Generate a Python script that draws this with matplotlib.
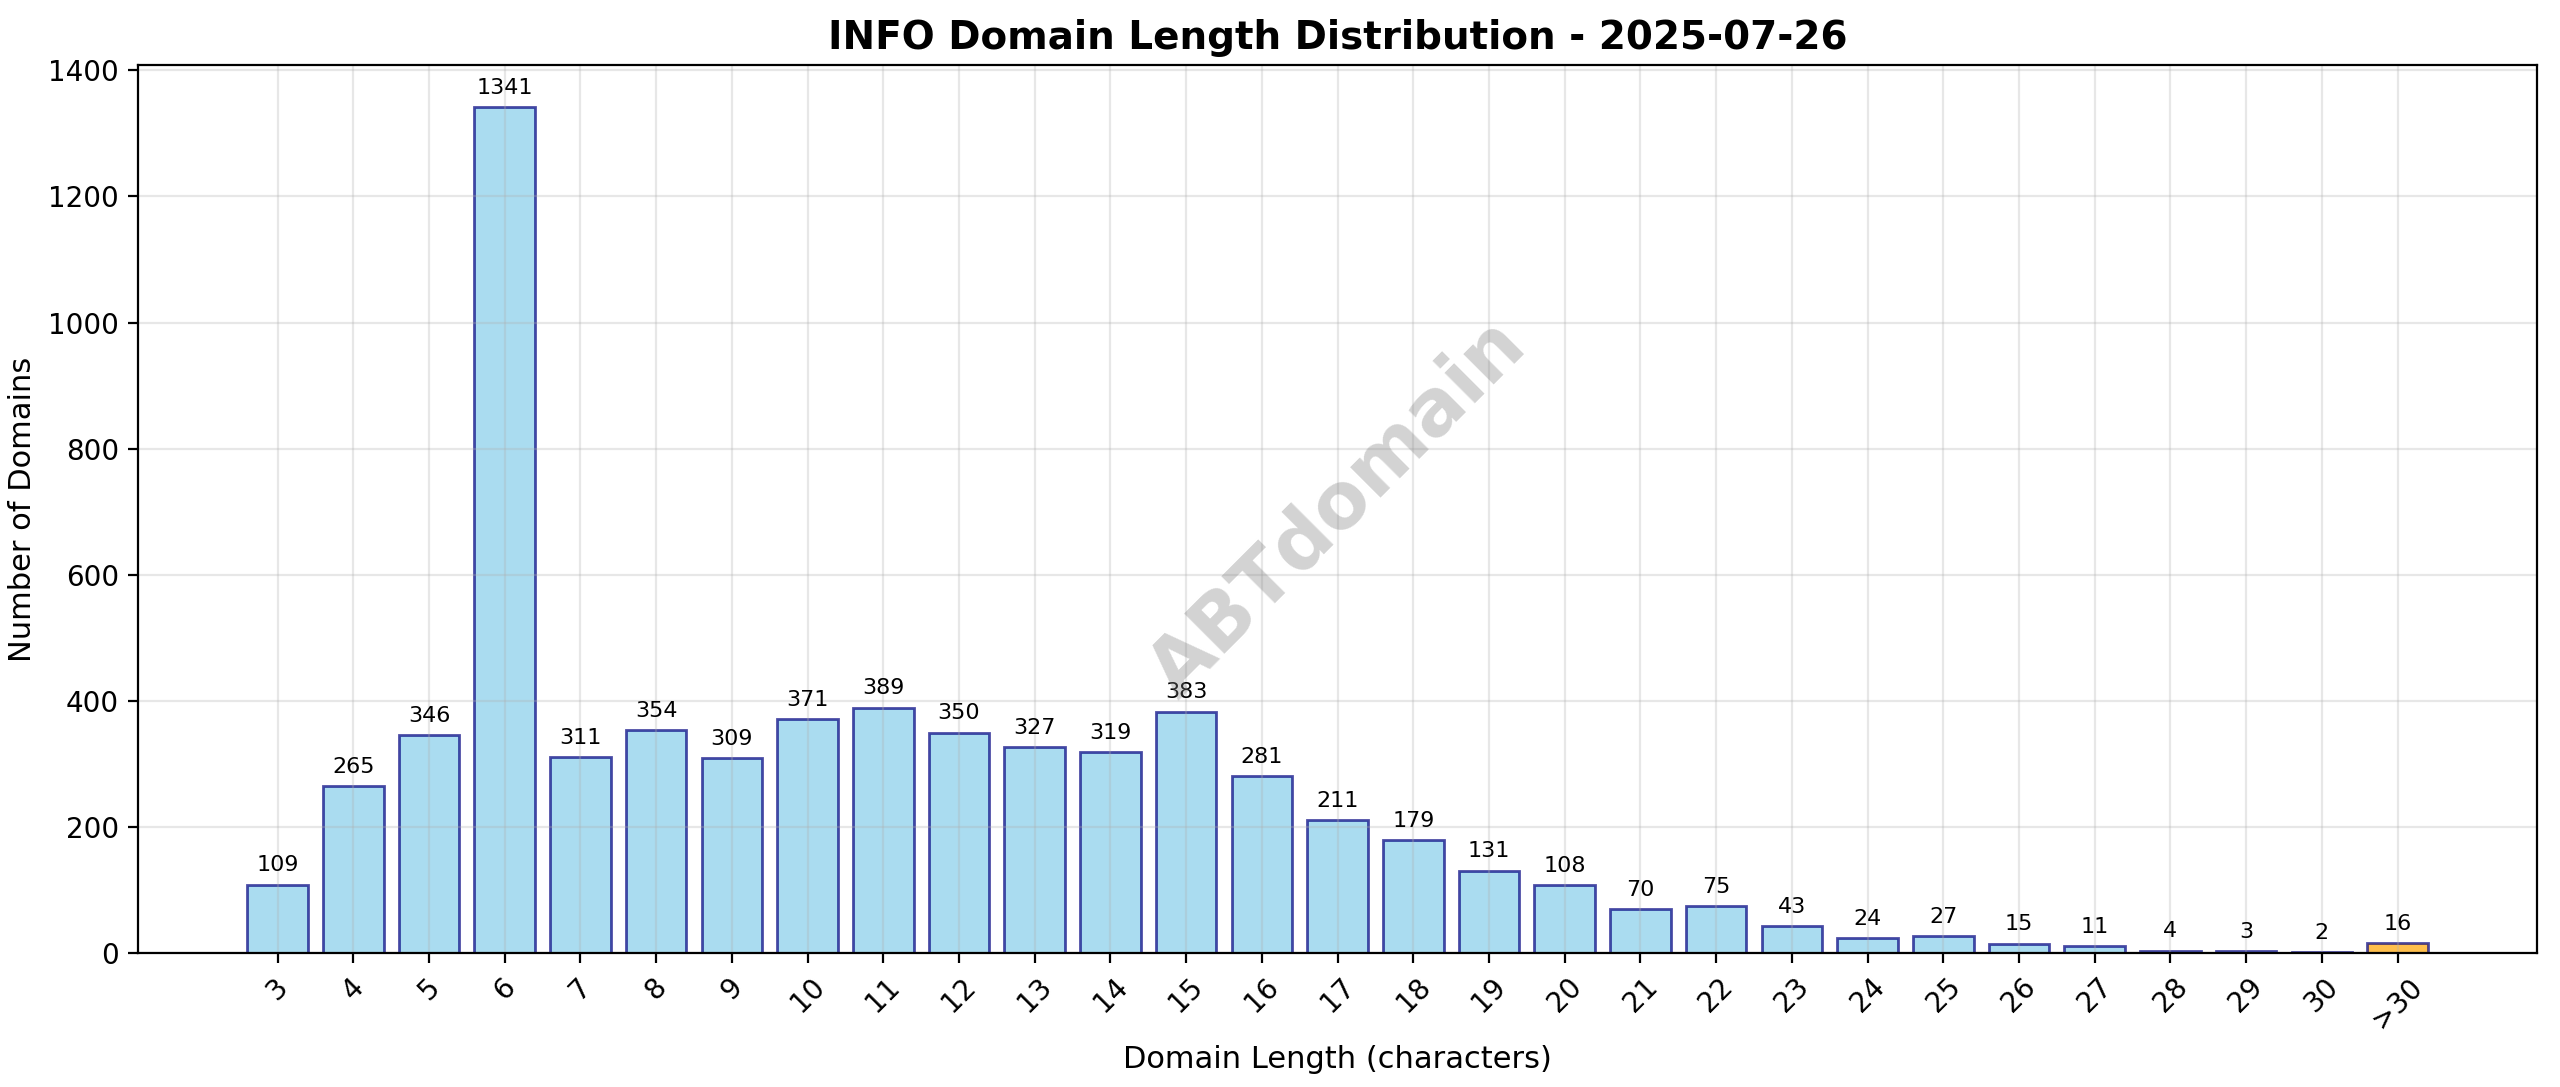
import matplotlib
matplotlib.use("Agg")
import matplotlib.pyplot as plt

lengths = ["3", "4", "5", "6", "7", "8", "9", "10", "11", "12", "13", "14", "15", "16",
           "17", "18", "19", "20", "21", "22", "23", "24", "25", "26", "27", "28", "29", "30", ">30"]
counts = [109, 265, 346, 1341, 311, 354, 309, 371, 389, 350, 327, 319, 383, 281,
          211, 179, 131, 108, 70, 75, 43, 24, 27, 15, 11, 4, 3, 2, 16]

fig, ax = plt.subplots(figsize=(12.8, 5.435), dpi=200)
fig.subplots_adjust(left=0.054, right=0.991, top=0.94, bottom=0.123)

colors = ["skyblue"] * (len(lengths) - 1) + ["orange"]
x = range(len(lengths))
bars = ax.bar(x, counts, color=colors, edgecolor="navy", alpha=0.7, linewidth=1)

for b, v in zip(bars, counts):
    ax.text(b.get_x() + b.get_width() / 2, b.get_height() + 15, str(v),
            ha="center", va="bottom", fontsize=8)

ax.set_xticks(list(x))
ax.set_xticklabels(lengths, rotation=45)
ax.set_xlabel("Domain Length (characters)", fontsize=11)
ax.set_ylabel("Number of Domains", fontsize=11)
ax.set_title("INFO Domain Length Distribution - 2025-07-26", fontsize=14, fontweight="bold")
ax.grid(True, alpha=0.3)
ax.set_ylim(0, 1408)

ax.text(0.5, 0.5, "ABTdomain", transform=ax.transAxes, fontsize=28, color="gray",
        alpha=0.35, rotation=45, ha="center", va="center", fontweight="bold")

fig.savefig("out.png", dpi=200)
